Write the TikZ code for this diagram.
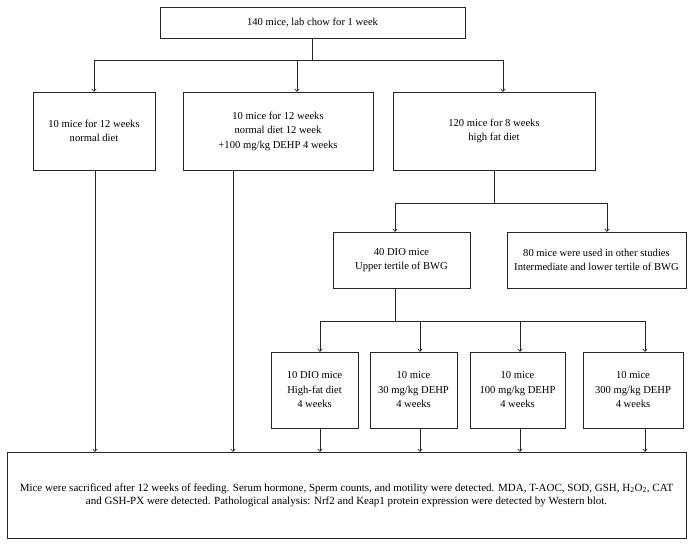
\documentclass[tikz,border=0pt]{standalone}
\usepackage{fontspec}
\setmainfont{Liberation Serif}
\usetikzlibrary{arrows.meta}
\begin{document}
\begin{tikzpicture}[x=1pt,y=-1pt,
  box/.style={draw=black!85,line width=0.7pt,align=center,inner sep=2pt,font=\fontsize{10.6}{14.5}\selectfont},
  link/.style={draw=black!85,line width=0.7pt},
  arr/.style={link,-{To[length=3pt,width=5pt]}}]
\useasboundingbox (0,0) rectangle (693,546);
\node[box,minimum width=305pt,minimum height=31pt] (top) at (312.5,22.5) {140 mice, lab chow for 1 week};
\node[box,minimum width=122pt,minimum height=78pt] (A) at (94,131) {10 mice for 12 weeks\\normal diet};
\node[box,minimum width=190pt,minimum height=78pt] (B) at (278,131) {10 mice for 12 weeks\\normal diet 12 week\\+100 mg/kg DEHP 4 weeks};
\node[box,minimum width=202pt,minimum height=78pt] (C) at (494,131) {120 mice for 8 weeks\\high fat diet};
\node[box,minimum width=137pt,minimum height=56pt] (D) at (401.5,260) {40 DIO mice\\Upper tertile of BWG};
\node[box,minimum width=179pt,minimum height=56pt] (E) at (596.5,260) {80 mice were used in other studies\\Intermediate and lower tertile of BWG};
\node[box,minimum width=87pt,minimum height=76pt] (F) at (314.5,390) {10 DIO mice\\High-fat diet\\4 weeks};
\node[box,minimum width=87pt,minimum height=76pt] (G) at (413.5,390) {10 mice\\30 mg/kg DEHP\\4 weeks};
\node[box,minimum width=95pt,minimum height=76pt] (H) at (517.5,390) {10 mice\\100 mg/kg DEHP\\4 weeks};
\node[box,minimum width=100pt,minimum height=76pt] (I) at (633,390) {10 mice\\300 mg/kg DEHP\\4 weeks};
\node[box,minimum width=679pt,minimum height=86pt,font=\fontsize{11}{13}\selectfont] (bot) at (346.5,495) {Mice were sacrificed after 12 weeks of feeding. Serum hormone, Sperm counts, and motility were detected. MDA, T-AOC, SOD, GSH, H\textsubscript{2}O\textsubscript{2}, CAT\\and GSH-PX were detected. Pathological analysis: Nrf2 and Keap1 protein expression were detected by Western blot.};
% split 1
\coordinate (s1) at (312.5,60);
\coordinate (s1a) at (94,60);
\coordinate (s1b) at (297,60);
\coordinate (s1c) at (503,60);
\draw[link] (top.south) -- (s1);
\draw[link] (s1a) -- (s1c);
\draw[arr] (s1a) -- (s1a |- A.north);
\draw[arr] (s1b) -- (s1b |- B.north);
\draw[arr] (s1c) -- (s1c |- C.north);
% split 2
\coordinate (s2) at (494,203);
\coordinate (s2d) at (395,203);
\coordinate (s2e) at (607,203);
\draw[link] (C.south) -- (s2);
\draw[link] (s2d) -- (s2e);
\draw[arr] (s2d) -- (s2d |- D.north);
\draw[arr] (s2e) -- (s2e |- E.north);
% split 3
\coordinate (d3) at (395,288);
\coordinate (s3) at (395,321);
\coordinate (s3f) at (320,321);
\coordinate (s3g) at (420,321);
\coordinate (s3h) at (520,321);
\coordinate (s3i) at (645,321);
\draw[link] (d3) -- (s3);
\draw[link] (s3f) -- (s3i);
\draw[arr] (s3f) -- (s3f |- F.north);
\draw[arr] (s3g) -- (s3g |- G.north);
\draw[arr] (s3h) -- (s3h |- H.north);
\draw[arr] (s3i) -- (s3i |- I.north);
% to bottom
\draw[arr] (s3f |- F.south) -- (s3f |- bot.north);
\draw[arr] (s3g |- G.south) -- (s3g |- bot.north);
\draw[arr] (s3h |- H.south) -- (s3h |- bot.north);
\draw[arr] (s3i |- I.south) -- (s3i |- bot.north);
\coordinate (aout) at (95,170);
\coordinate (bout) at (233,170);
\draw[arr] (aout) -- (aout |- bot.north);
\draw[arr] (bout) -- (bout |- bot.north);
\end{tikzpicture}
\end{document}
